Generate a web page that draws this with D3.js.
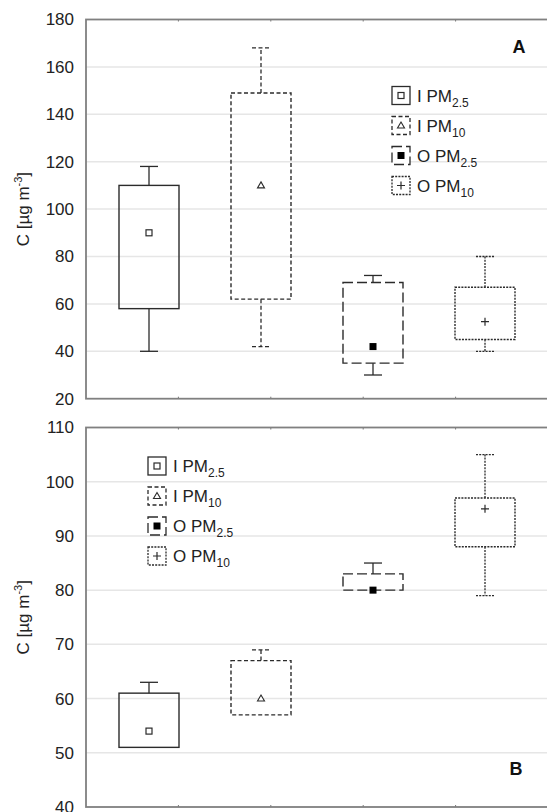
<!DOCTYPE html>
<html>
<head>
<meta charset="utf-8">
<script src="https://cdn.jsdelivr.net/npm/d3@7"></script>
<style>
body{margin:0;background:#fff}
svg{display:block;font-family:Arial,"Liberation Sans",sans-serif}
</style>
</head>
<body>
<div id="chart"></div>
<script>
// groups, in plotting order
var groups = ["I PM2.5","I PM10","O PM2.5","O PM10"]
var groupMain = ["I PM","I PM","O PM","O PM"]
var groupSub = ["2.5","10","2.5","10"]

// panel A (µg m-3)
var aMin = [40,42,30,40]
var aQ1  = [58,62,35,45]
var aQ3  = [110,149,69,67]
var aMax = [118,168,72,80]
var aMid = [90,110,42,52.5]
var aTicks = [20,40,60,80,100,120,140,160,180]

// panel B (µg m-3)
var bMin = [51,57,80,79]
var bQ1  = [51,57,80,88]
var bQ3  = [61,67,83,97]
var bMax = [63,69,85,105]
var bMid = [54,60,80,95]
var bTicks = [40,50,60,70,80,90,100,110]

var W = 547, H = 812
var left = 86, right = 548
var ink = "#2b2b2b"
var dashes = [null,"4,2.5","10,4","2,1.2"]
var whiskerDash = [null,"4,2.5",null,"2,1.2"]

var svg = d3.select("#chart").append("svg").attr("width",W).attr("height",H)

var x = d3.scalePoint().domain(groups).range([149,485])
var xt = d3.scaleLinear().domain([0,5]).range([left,right])

drawPanel(19.5,398.7,aTicks,aMin,aQ1,aQ3,aMax,aMid,392,95.5,"A",519,53)
drawPanel(427.5,807,bTicks,bMin,bQ1,bQ3,bMax,bMid,148,466,"B",516,775)

function marker(g,i,cx,cy){
	if(i==0){
		g.append("rect").attr("x",cx-3).attr("y",cy-3).attr("width",6).attr("height",6)
			.attr("fill","#fff").attr("stroke",ink).attr("stroke-width",1.2)
	} else if(i==1){
		g.append("path").attr("d","M"+cx+","+(cy-3.5)+"L"+(cx+3.5)+","+(cy+2.5)+"L"+(cx-3.5)+","+(cy+2.5)+"Z")
			.attr("fill","#fff").attr("stroke",ink).attr("stroke-width",1.1)
	} else if(i==2){
		g.append("rect").attr("x",cx-3.5).attr("y",cy-3.5).attr("width",7).attr("height",7).attr("fill","#000")
	} else {
		g.append("path").attr("d","M"+(cx-4)+","+cy+"H"+(cx+4)+"M"+cx+","+(cy-4)+"V"+(cy+4))
			.attr("stroke",ink).attr("stroke-width",1.2)
	}
}

function drawPanel(top,bottom,ticks,mins,q1s,q3s,maxs,mids,lx,ly,letter,letX,letY){
	var y = d3.scaleLinear().domain([ticks[0],ticks[ticks.length-1]]).range([bottom,top])
	var g = svg.append("g")

	// gridlines
	g.selectAll(".grid").data(ticks.slice(1,-1)).enter().append("line")
		.attr("x1",left).attr("x2",right)
		.attr("y1",function(d){return y(d)}).attr("y2",function(d){return y(d)})
		.attr("stroke","#e6e6e6").attr("stroke-width",1.5)

	// y axis labels
	var axis = d3.axisLeft(y).tickValues(ticks).tickSize(0).tickPadding(12)
	var ax = g.append("g").attr("transform","translate("+left+",0)").call(axis)
	ax.select(".domain").remove()
	ax.selectAll("text").attr("font-size",17).attr("fill","#222").attr("font-family","Arial, 'Liberation Sans', sans-serif")

	// small x ticks top and bottom
	g.selectAll(".tb").data([1,2,3,4]).enter().append("line")
		.attr("x1",function(d){return xt(d)}).attr("x2",function(d){return xt(d)})
		.attr("y1",bottom).attr("y2",bottom-2).attr("stroke","#777")
	g.selectAll(".tt").data([1,2,3,4]).enter().append("line")
		.attr("x1",function(d){return xt(d)}).attr("x2",function(d){return xt(d)})
		.attr("y1",top).attr("y2",top+2).attr("stroke","#777")

	// frame
	g.append("rect").attr("x",left).attr("y",top).attr("width",right-left).attr("height",bottom-top)
		.attr("fill","none").attr("stroke","#808080").attr("stroke-width",1.8)

	// boxes
	var bw = 60, cap = 18
	groups.forEach(function(name,i){
		var cx = x(name)
		var b = g.append("g")
		if(maxs[i]>q3s[i]){
			b.append("line").attr("x1",cx).attr("x2",cx).attr("y1",y(q3s[i])).attr("y2",y(maxs[i]))
				.attr("stroke",ink).attr("stroke-width",1.3).attr("stroke-dasharray",whiskerDash[i])
			b.append("line").attr("x1",cx-cap/2).attr("x2",cx+cap/2).attr("y1",y(maxs[i])).attr("y2",y(maxs[i]))
				.attr("stroke",ink).attr("stroke-width",1.3).attr("stroke-dasharray",whiskerDash[i])
		}
		if(mins[i]<q1s[i]){
			b.append("line").attr("x1",cx).attr("x2",cx).attr("y1",y(q1s[i])).attr("y2",y(mins[i]))
				.attr("stroke",ink).attr("stroke-width",1.3).attr("stroke-dasharray",whiskerDash[i])
			b.append("line").attr("x1",cx-cap/2).attr("x2",cx+cap/2).attr("y1",y(mins[i])).attr("y2",y(mins[i]))
				.attr("stroke",ink).attr("stroke-width",1.3).attr("stroke-dasharray",whiskerDash[i])
		}
		b.append("rect").attr("x",cx-bw/2).attr("y",y(q3s[i])).attr("width",bw).attr("height",y(q1s[i])-y(q3s[i]))
			.attr("fill","none").attr("stroke",ink).attr("stroke-width",1.4).attr("stroke-dasharray",dashes[i])
		marker(b,i,cx,y(mids[i]))
	})

	// legend
	groups.forEach(function(name,i){
		var cy = ly + i*30
		var l = g.append("g")
		l.append("rect").attr("x",lx).attr("y",cy-9).attr("width",18).attr("height",18)
			.attr("fill","#fff").attr("stroke",ink).attr("stroke-width",1.3).attr("stroke-dasharray",dashes[i])
		marker(l,i,lx+9,cy)
		var t = l.append("text").attr("x",lx+25).attr("y",cy+6).attr("font-size",17).attr("fill","#222")
		t.append("tspan").text(groupMain[i])
		t.append("tspan").attr("font-size",12).attr("dy",5).text(groupSub[i])
	})

	// panel letter
	g.append("text").attr("x",letX).attr("y",letY).attr("text-anchor","middle")
		.attr("font-size",18).attr("font-weight","bold").attr("fill","#111").text(letter)

	// y title
	var yt = g.append("text").attr("transform","translate(29,"+((top+bottom)/2)+") rotate(-90)")
		.attr("text-anchor","middle").attr("font-size",17).attr("fill","#222")
	yt.append("tspan").text("C [µg m")
	yt.append("tspan").attr("font-size",11).attr("dy",-7).text("-3")
	yt.append("tspan").attr("dy",7).text("]")
}
</script>
</body>
</html>
